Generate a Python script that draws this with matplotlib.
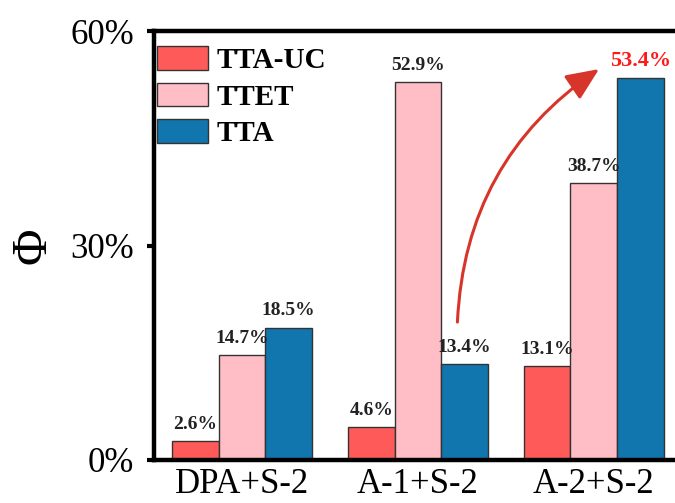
import matplotlib
matplotlib.use("Agg")
import matplotlib.pyplot as plt
import numpy as np

plt.rcParams['font.family'] = ['Liberation Serif', 'DejaVu Serif']

# quantum yields per system
systems = ['DPA+S-2', 'A-1+S-2', 'A-2+S-2']
tta_uc = [2.6, 4.6, 13.1]
ttet = [14.7, 52.9, 38.7]
tta = [18.5, 13.4, 53.4]
series_names = ['TTA-UC', 'TTET', 'TTA']
colors = ['#FF5A5A', '#FFBEC5', '#1276AE']

x = np.arange(len(systems))
width = 0.265

fig = plt.figure(figsize=(6.75, 5.03), dpi=100)
ax = fig.add_axes([0.228, 0.0855, 0.782, 0.8525])

groups = [tta_uc, ttet, tta]
for i, (vals, name, c) in enumerate(zip(groups, series_names, colors)):
    bars = ax.bar(x + (i - 1) * width, vals, width, color=c, edgecolor='#333333',
                  linewidth=1, label=name)
    for j, (b, v) in enumerate(zip(bars, vals)):
        # highlight the best TTA value
        if i == 2 and j == 2:
            ax.annotate(f'{v}%', (b.get_x() + b.get_width() / 2, v), xytext=(0, 5),
                        textcoords='offset points', ha='center', va='bottom',
                        fontsize=16, fontweight='bold', color='#FF1A1A')
        else:
            ax.annotate(f'{v}%', (b.get_x() + b.get_width() / 2, v), xytext=(0, 6),
                        textcoords='offset points', ha='center', va='bottom',
                        fontsize=14, fontweight='bold', color='#222222')

# curved arrow from above the A-1 TTA bar up to the A-2 TTA label
ax.annotate('', xy=(x[2] + 0.03, tta[2] + 1.3), xytext=(x[1] + width - 0.04, tta[1] + 5.9),
            arrowprops=dict(arrowstyle='-|>,head_length=0.8,head_width=0.35',
                            mutation_scale=25, color='#D8352A', lw=2.2,
                            connectionstyle='arc3,rad=-0.25', shrinkA=0, shrinkB=0))

ax.set_xlim(-0.5, 2.5)
ax.set_ylim(0, 60)
ax.set_yticks([0, 30, 60])
ax.set_yticklabels(['0%', '30%', '60%'])
ax.set_xticks(x)
ax.set_xticklabels(systems)
ax.tick_params(axis='y', direction='out', length=5, width=3, labelsize=25, pad=9)
ax.tick_params(axis='x', length=0, labelsize=25, pad=6)
for s in ax.spines.values():
    s.set_linewidth(3.2)

ax.set_ylabel('Φ', fontsize=36, labelpad=10)

ax.legend(loc='upper left', bbox_to_anchor=(0.006, 0.965), frameon=False,
          prop={'weight': 'bold', 'size': 21},
          handlelength=1.75, handleheight=0.86, handletextpad=0.3,
          labelspacing=0.3, borderaxespad=0, borderpad=0)

fig.savefig('out.png', dpi=100)
